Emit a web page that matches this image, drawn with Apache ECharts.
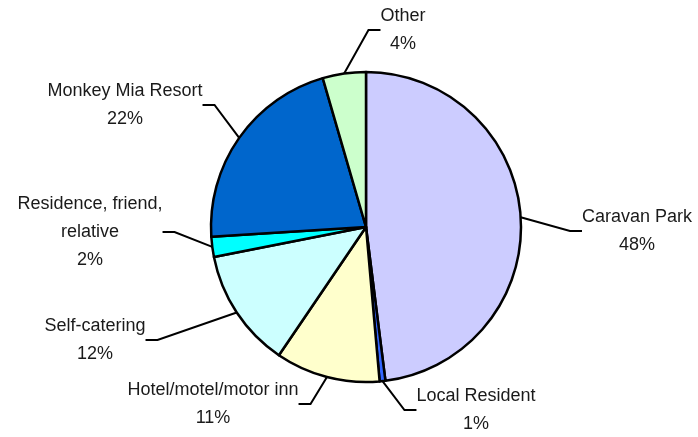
<!DOCTYPE html>
<html>
<head>
<meta charset="utf-8">
<script src="https://cdn.jsdelivr.net/npm/echarts@6/dist/echarts.min.js"></script>
<style>
  html, body { margin: 0; padding: 0; background: #fff; }
  #chart { width: 698px; height: 437px; }
</style>
</head>
<body>
<div id="chart"></div>
<script>
// slices clockwise from 12 o'clock
var names = ['Caravan Park', 'Local Resident', 'Hotel/motel/motor inn', 'Self-catering',
             'Residence, friend,\nrelative', 'Monkey Mia Resort', 'Other'];
var shares = [48.0, 0.6, 10.9, 12.4, 2.1, 21.5, 4.5];   // slice sizes as drawn
var pctLabels = [48, 1, 11, 12, 2, 22, 4];               // printed percentages
var colors = ['#ccccff', '#3366ff', '#ffffcc', '#ccffff', '#00ffff', '#0066cc', '#ccffcc'];

// where each label block sits (centre)
var labelPos = [[637, 231], [476, 410], [213, 404], [95, 340], [90, 232], [125, 105], [403, 30]];

var chart = echarts.init(document.getElementById('chart'));

var data = [];
for (var i = 0; i < names.length; i++) {
    data.push({ name: names[i], value: shares[i], itemStyle: { color: colors[i] } });
}

chart.setOption({
    animation: false,
    series: [{
        type: 'pie',
        center: [366, 227],
        radius: 155,
        startAngle: 90,
        clockwise: true,
        minAngle: 0,
        avoidLabelOverlap: false,
        itemStyle: { borderColor: '#000', borderWidth: 2.5 },
        emphasis: { disabled: true },
        label: {
            show: true,
            fontFamily: '"Liberation Sans", Arial, sans-serif',
            fontSize: 18,
            lineHeight: 28,
            color: '#1a1a1a',
            align: 'center',
            formatter: function (p) {
                return p.name + '\n' + pctLabels[p.dataIndex] + '%';
            }
        },
        labelLine: {
            show: true,
            length: 20,
            length2: 12,
            smooth: false,
            lineStyle: { color: '#000', width: 2 }
        },
        labelLayout: function (p) {
            var pos = labelPos[p.dataIndex];
            return { x: pos[0], y: pos[1], align: 'center', verticalAlign: 'middle' };
        },
        data: data
    }]
});
</script>
</body>
</html>
